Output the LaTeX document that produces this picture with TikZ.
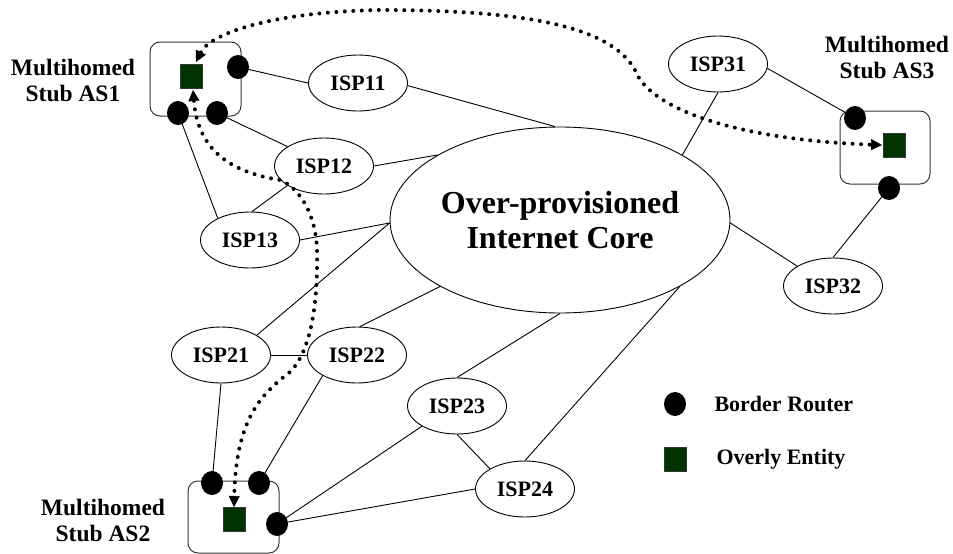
\documentclass[tikz,border=0pt]{standalone}
\usepackage{fontspec}
\setmainfont{Liberation Serif}
\usetikzlibrary{shapes.geometric,arrows.meta}

\definecolor{entitygreen}{RGB}{1,51,1}
\definecolor{boxline}{RGB}{55,55,55}

\begin{document}
\begin{tikzpicture}[x=1pt,y=-1pt,
  isp/.style={draw,ellipse,line width=0.9pt,minimum width=99pt,minimum height=56pt,
    inner sep=0pt,font=\fontsize{22}{24}\selectfont\bfseries},
  corenode/.style={draw,ellipse,line width=0.9pt,minimum width=340pt,minimum height=186pt,
    inner sep=0pt,align=center,font=\fontsize{32}{35}\selectfont\bfseries},
  stubbox/.style={draw=boxline,rounded corners=10pt,line width=1pt},
  router/.style={ellipse,fill=black,minimum width=22pt,minimum height=24pt,inner sep=0pt},
  entity/.style={rectangle,fill=entitygreen,draw=boxline,line width=0.5pt,
    minimum width=22pt,minimum height=24pt,inner sep=0pt},
  stublabel/.style={align=center,font=\fontsize{23.5}{26}\selectfont\bfseries},
  legendtext/.style={anchor=west,font=\fontsize{22}{24}\selectfont\bfseries},
  link/.style={line width=0.9pt},
  tunnel/.style={line width=4pt,dash pattern=on 0pt off 8.5pt,line cap=round,
    {Triangle[length=11pt,width=11pt,line width=0.4pt]}-{Triangle[length=11pt,width=11pt,line width=0.4pt]}}
]
\useasboundingbox (0,0) rectangle (953,554);

% stub AS boxes
\draw[stubbox] (150,42) rectangle (241,116);
\draw[stubbox] (188,481) rectangle (279,553);
\draw[stubbox] (840,111) rectangle (930,184);

% internet core and ISPs
\node[corenode] (core) at (560,220) {Over-provisioned\\Internet Core};
\node[isp] (isp11) at (358,83)  {ISP11};
\node[isp] (isp12) at (324,166) {ISP12};
\node[isp] (isp13) at (250,240) {ISP13};
\node[isp] (isp21) at (221,355) {ISP21};
\node[isp] (isp22) at (357,355) {ISP22};
\node[isp] (isp23) at (457,406) {ISP23};
\node[isp] (isp24) at (525,489) {ISP24};
\node[isp] (isp31) at (718,64)  {ISP31};
\node[isp] (isp32) at (833,286) {ISP32};

% border routers and overlay entities
\node[router] (r1a) at (238,67)  {};
\node[router] (r1b) at (178,113) {};
\node[router] (r1c) at (217,113) {};
\node[entity] (e1)  at (191,76)  {};
\node[router] (r2a) at (212,483) {};
\node[router] (r2b) at (259,483) {};
\node[router] (r2c) at (277,524) {};
\node[entity] (e2)  at (234,519) {};
\node[router] (r3a) at (855,118) {};
\node[router] (r3b) at (889,188) {};
\node[entity] (e3)  at (894,145) {};

% stub labels
\node[stublabel] (l1) at (73,80)   {Multihomed\\Stub AS1};
\node[stublabel] (l2) at (103,520) {Multihomed\\Stub AS2};
\node[stublabel] (l3) at (887,57)  {Multihomed\\Stub AS3};

% links
\draw[link] (r1a.center) -- (isp11.180);
\draw[link] (isp11.357) -- (core.93);
\draw[link] (r1c.center) -- (isp12.152);
\draw[link] (isp12.0) -- (core.152);
\draw[link] (r1b.center) -- (isp13.146);
\draw[link] (isp13.86) -- (isp12.208);
\draw[link] (isp13.0) -- (core.181);
\draw[link] (isp21.29) -- (core.181);
\draw[link] (isp21.east) -- (isp22.west);
\draw[link] (isp22.84) -- (core.209);
\draw[link] (isp21.270) -- (r2a.center);
\draw[link] (isp22.211) -- (r2b.center);
\draw[link] (isp23.90) -- (core.270);
\draw[link] (isp24.90) -- (core.331);
\draw[link] (isp23.270) -- (isp24.150);
\draw[link] (isp23.210) -- (r2c.center);
\draw[link] (isp24.180) -- (r2c.center);
\draw[link] (isp31.270) -- (core.28);
\draw[link] (isp31.355) -- (r3a.center);
\draw[link] (core.359) -- (isp32.151);
\draw[link] (isp32.90) -- (r3b.center);

% overlay tunnels
\coordinate (t1a) at (196,62);
\coordinate (t1b) at (193,90);
\coordinate (t2)  at (234,507);
\coordinate (t3)  at (882,145);
\draw[tunnel] (t1a) .. controls (210,34) and (270,12) .. (380,10)
  .. controls (520,10) and (610,25) .. (635,70)
  .. controls (650,110) and (740,140) .. (t3);
\draw[tunnel] (t1b) .. controls (198,150) and (230,172) .. (280,180)
  .. controls (300,188) and (316,215) .. (317,250)
  .. controls (318,300) and (312,350) .. (290,372)
  .. controls (260,395) and (236,420) .. (t2);

% legend
\node[router] (legr) at (675,404) {};
\node[legendtext] (legrt) at (711,404) {Border Router};
\node[entity] (lege) at (675,459) {};
\node[legendtext] (leget) at (713,459) {Overly Entity};
\end{tikzpicture}
\end{document}
